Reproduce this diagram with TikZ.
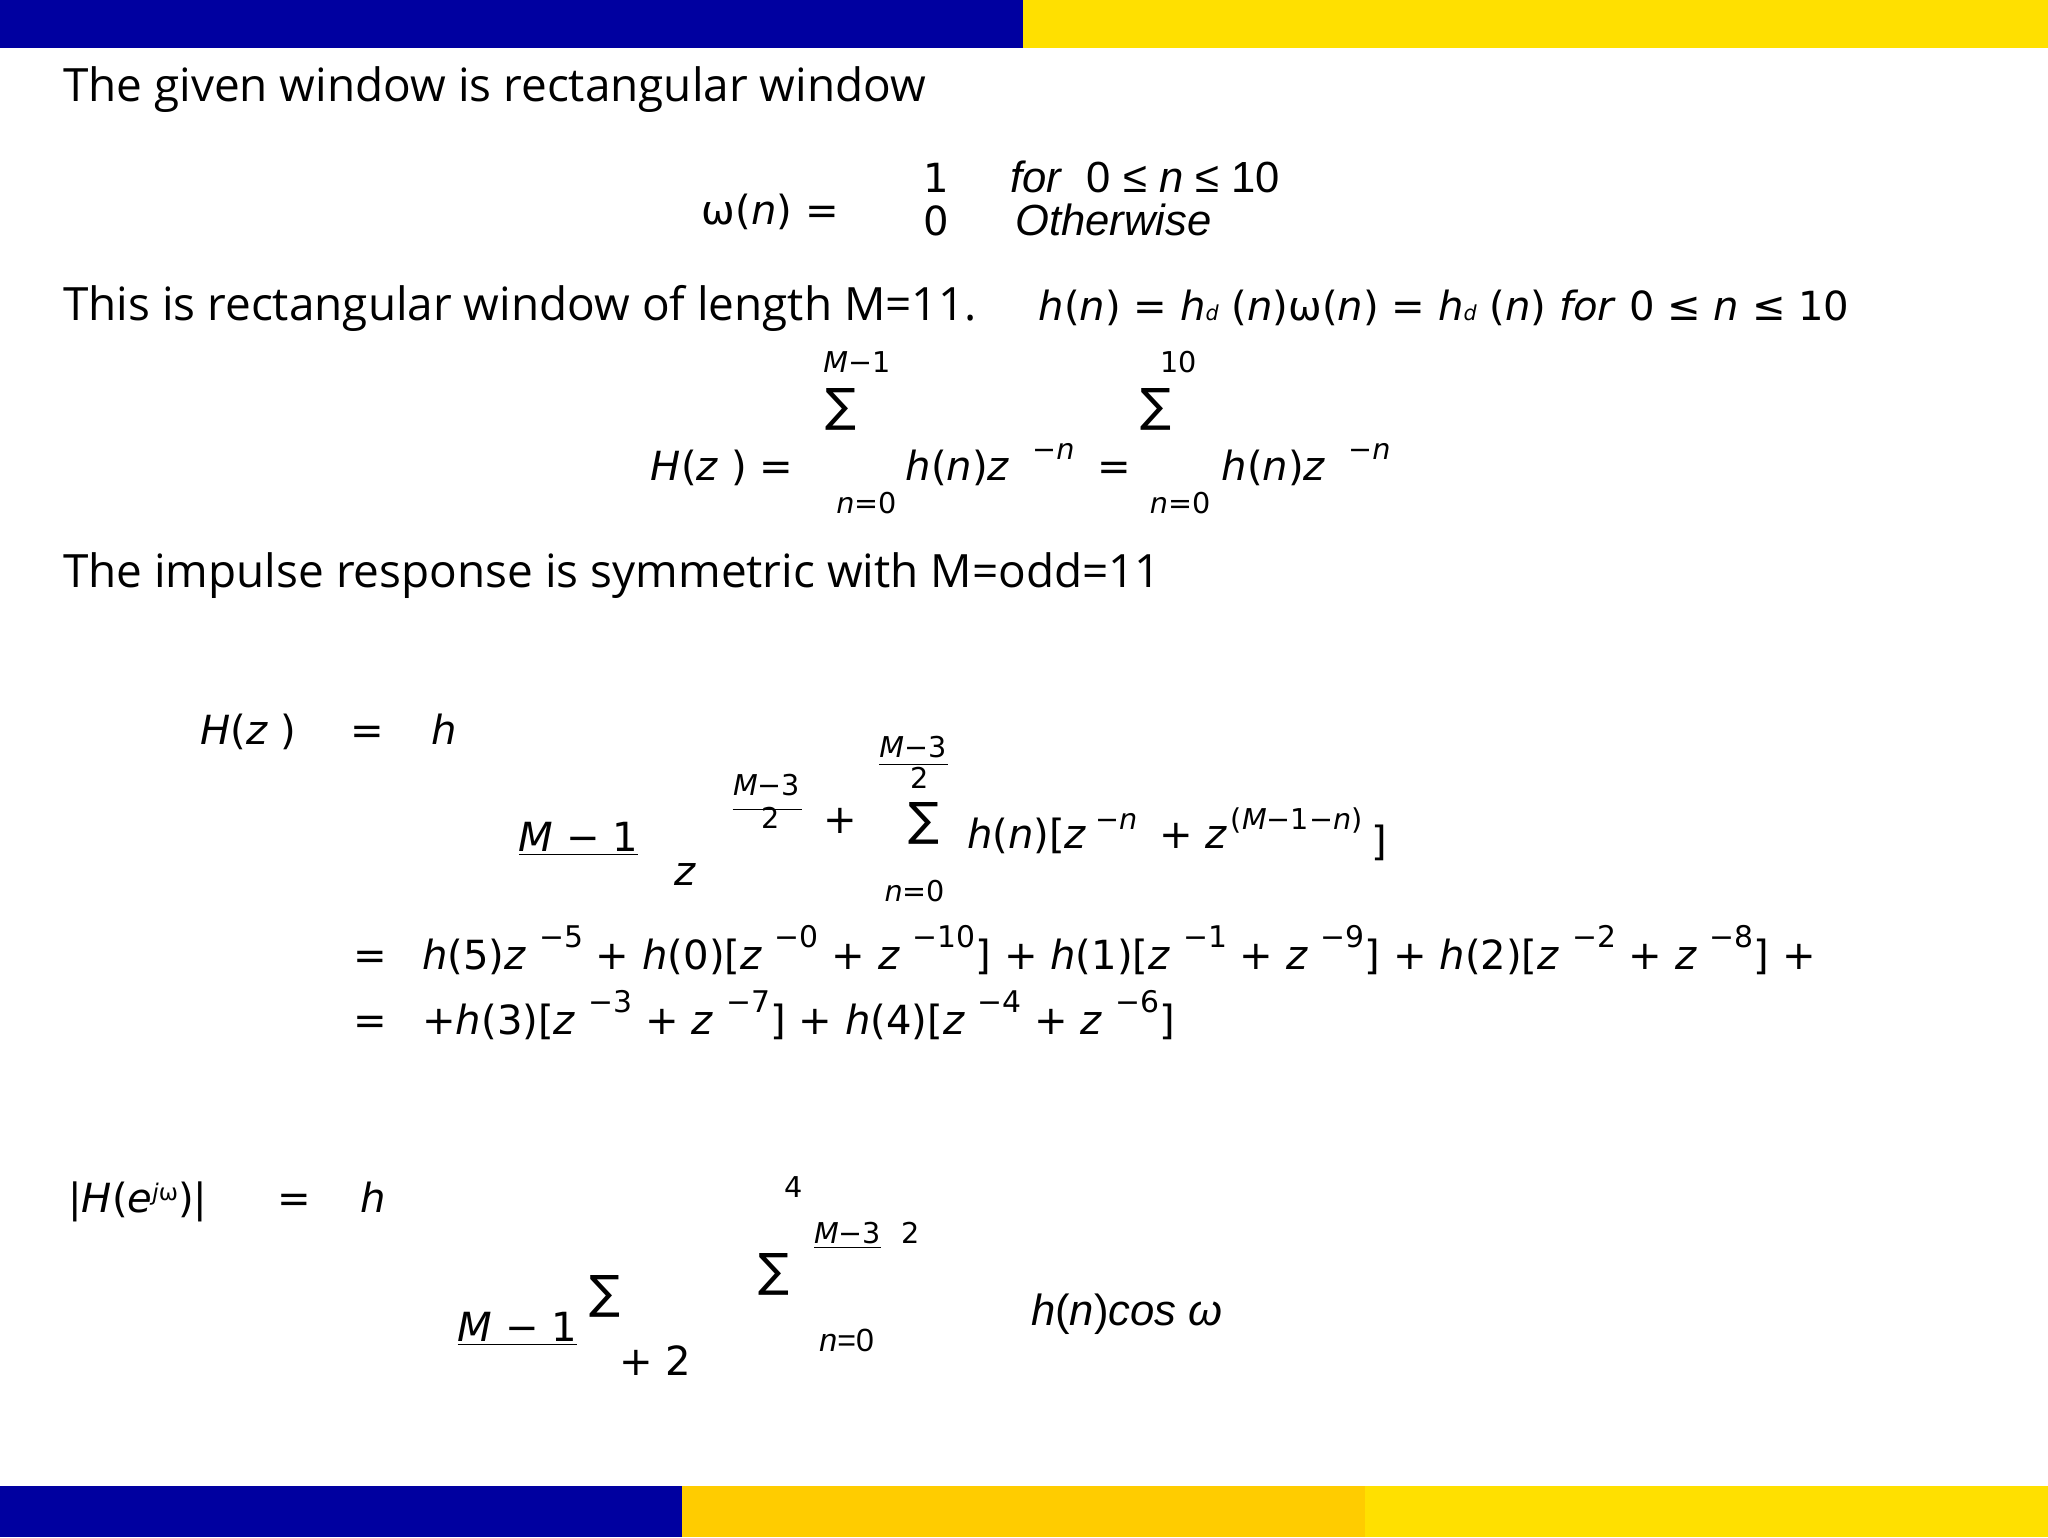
\documentclass[tikz,border=0pt]{standalone}
\usepackage{fontspec}
\setmainfont{Open Sans}
\newfontfamily\arial{Liberation Sans}
\newfontfamily\djvfont{DejaVu Sans}
\definecolor{bblue}{HTML}{0000A0}
\definecolor{byel}{HTML}{FFE000}
\definecolor{borg}{HTML}{FFCC00}
\newcommand{\sps}[1]{\raisebox{0.55em}{\fontsize{13}{13}\selectfont #1}}
\newcommand{\SG}{{\djvfont\fontsize{20}{20}\selectfont ∑}}
\begin{document}
\begin{tikzpicture}[x=0.02cm,y=-0.02cm,
  t/.style={anchor=base west,inner sep=0pt,font=\fontsize{20}{22}\selectfont},
  m/.style={anchor=base west,inner sep=0pt,font=\djvfont\fontsize{17.5}{20}\selectfont},
  s/.style={anchor=base west,inner sep=0pt,font=\djvfont\fontsize{12.5}{14}\selectfont},
  a/.style={anchor=base west,inner sep=0pt,font=\arial\fontsize{19}{20}\selectfont}]
\useasboundingbox (0,0) rectangle (1568,1177);
\fill[bblue] (0,0) rectangle (783,37);
\fill[byel] (783,0) rectangle (1568,37);
\fill[bblue] (0,1138) rectangle (522,1177);
\fill[borg] (522,1138) rectangle (1045,1177);
\fill[byel] (1045,1138) rectangle (1568,1177);

\node[t] (l1) at (48,78) {The given window is rectangular window};
\node[m] (w) at (537,172) {ω(\textit{n}) =};
\node[m] (o1) at (707,147) {1};
\node[a] (f1) at (773,147) {\textit{for} \ 0 ≤ \textit{n} ≤ 10};
\node[m] (o0) at (707,180) {0};
\node[a] (f0) at (777,180) {\textit{Otherwise}};

\node[t] (l2) at (48,245) {This is rectangular window of length M=11.};
\node[m] (l2b) at (795,245) {\textit{h}(\textit{n}) = \textit{h}{\fontsize{9}{9}\selectfont\textit{d}} (\textit{n})ω(\textit{n}) = \textit{h}{\fontsize{9}{9}\selectfont\textit{d}} (\textit{n}) \textit{for} 0 ≤ \textit{n} ≤ 10};

\node[s] (a1) at (630,285) {\textit{M}−1};
\node[anchor=base west,inner sep=0pt] (sg1) at (632,323) {\SG};
\node[m] (hz) at (498,368) {\textit{H}(\textit{z} ) =};
\node[m] (hn1) at (693,368) {\textit{h}(\textit{n})\textit{z}};
\node[s] (e1) at (790,352) {−\textit{n}};
\node[m] (eq1) at (840,368) {=};
\node[s] (a2) at (888,285) {10};
\node[anchor=base west,inner sep=0pt] (sg2) at (873,323) {\SG};
\node[m] (hn2) at (935,368) {\textit{h}(\textit{n})\textit{z}};
\node[s] (e2) at (1032,352) {−\textit{n}};
\node[s] (b1) at (640,393) {\textit{n}=0};
\node[s] (b2) at (880,393) {\textit{n}=0};

\node[t] (l3) at (48,450) {The impulse response is symmetric with M=odd=11};

\node[m] (H2) at (153,570) {\textit{H}(\textit{z} )};
\node[m] (eq2) at (268,570) {=};
\node[m] (h2) at (330,570) {\textit{h}};
\node[s] (c1) at (673,580) {\textit{M}−3};
\draw (673,585) -- (726,585);
\node[s] (c2) at (697,604) {2};
\node[s] (c3) at (561,609) {\textit{M}−3};
\draw (561,620) -- (614,620);
\node[s] (c4) at (583,634) {2};
\node[m] (pl) at (630,638) {+};
\node[anchor=base west,inner sep=0pt] (sg3) at (695,640) {\SG};
\node[m] (hb) at (740,650) {\textit{h}(\textit{n})[\textit{z}};
\node[s] (e3) at (838,635) {−\textit{n}};
\node[m] (pz) at (887,650) {+ \textit{z}};
\node[s] (e4) at (942,635) {(\textit{M}−1−\textit{n})};
\node[m] (rb) at (1050,655) {]};
\node[m] (m1) at (397,652) {\underline{\textit{M} − 1}};
\node[m] (z2) at (516,678) {\textit{z}};
\node[s] (b3) at (677,690) {\textit{n}=0};

\node[m] (eq3) at (270,742) {=};
\node[m] (r1) at (323,742) {\textit{h}(5)\textit{z} \sps{−5} + \textit{h}(0)[\textit{z} \sps{−0} + \textit{z} \sps{−10}] + \textit{h}(1)[\textit{z} \sps{−1} + \textit{z} \sps{−9}] + \textit{h}(2)[\textit{z} \sps{−2} + \textit{z} \sps{−8}] +};
\node[m] (eq4) at (270,792) {=};
\node[m] (r2) at (323,792) {+\textit{h}(3)[\textit{z} \sps{−3} + \textit{z} \sps{−7}] + \textit{h}(4)[\textit{z} \sps{−4} + \textit{z} \sps{−6}]};

\node[m] (Hm) at (52,928) {|\textit{H}(\textit{e}{\fontsize{10}{10}\selectfont\raisebox{0.5em}{\textit{j}ω}})|};
\node[m] (eq5) at (212,928) {=};
\node[m] (h3) at (276,928) {\textit{h}};
\node[s] (d4) at (600,917) {4};
\node[s] (d1) at (623,952) {\underline{\textit{M}−3}};
\node[s] (d2) at (690,952) {2};
\node[anchor=base west,inner sep=0pt] (sg4) at (580,985) {\SG};
\node[m] (m2) at (350,1027) {\underline{\textit{M} − 1}};
\node[anchor=base west,inner sep=0pt] (sg5) at (451,1002) {\SG};
\node[m] (p2) at (474,1053) {+ 2};
\node[a,font=\arial\fontsize{14}{14}\selectfont] (b4) at (627,1035) {\textit{n}=0};
\node[a] (hc) at (789,1015) {\textit{h}(\textit{n})\textit{cos ω}};
\end{tikzpicture}
\end{document}
